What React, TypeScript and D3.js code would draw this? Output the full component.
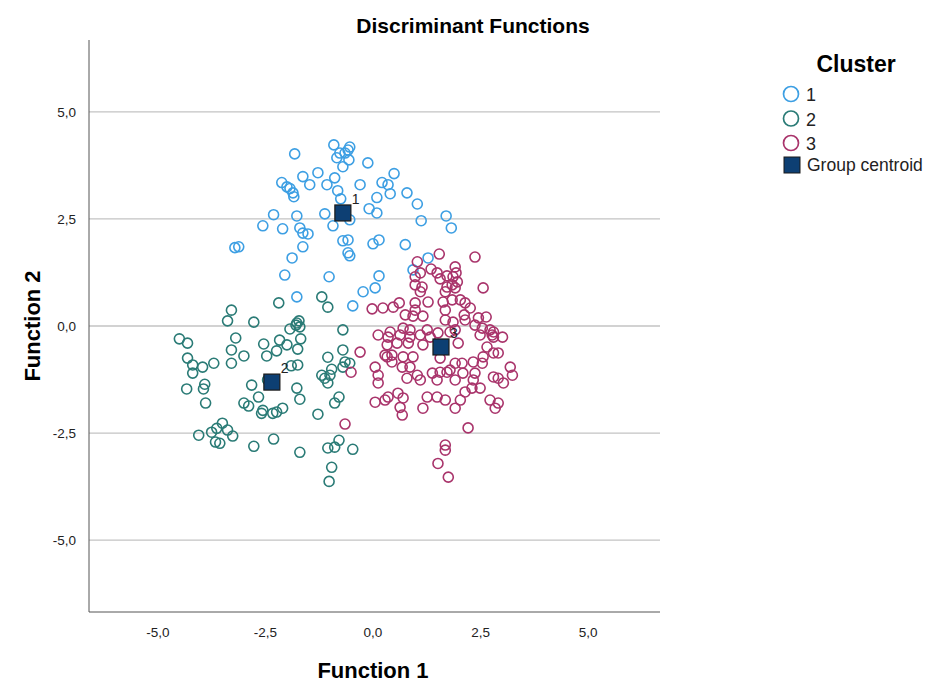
import React from "react";
import * as d3 from "d3";

const W = 928;
const H = 682;

const xTicks = [-5, -2.5, 0, 2.5, 5];
const yTicks = [5, 2.5, 0, -2.5, -5];
const fmt = (v: number) => v.toFixed(1).replace(".", ",");

const clusterNames = ["1", "2", "3"];
const clusterColors = ["#3d9fe3", "#2a7b76", "#a9346b"];

const cluster1: [number, number][] = [
  [-0.91, 4.23], [-0.54, 4.18], [-0.58, 4.11], [-0.77, 4.04], [-0.65, 4.04], [-0.84, 3.93],
  [-0.56, 3.88], [-0.70, 3.72], [-0.12, 3.81], [-1.28, 3.58], [-1.63, 3.49], [-1.47, 3.30],
  [-1.07, 3.30], [-0.89, 3.46], [-0.30, 3.30], [0.21, 3.35], [0.35, 3.30], [0.49, 3.56],
  [0.40, 3.09], [0.79, 3.11], [-0.82, 3.16], [-0.75, 2.97], [0.09, 3.00], [1.03, 2.85],
  [-1.12, 2.62], [-0.54, 2.48], [-0.09, 2.74], [0.09, 2.64], [-0.93, 2.34], [1.12, 2.46],
  [1.70, 2.57], [1.82, 2.29], [-1.70, 2.29], [-1.63, 2.17], [-1.51, 2.15], [-0.70, 1.99],
  [-0.58, 2.01], [0.00, 1.92], [0.14, 2.01], [0.75, 1.90], [-1.63, 1.85], [-0.54, 1.64],
  [-0.58, 1.71], [1.28, 1.59], [-1.82, 4.02], [-2.12, 3.35], [-2.00, 3.25], [-1.93, 3.21],
  [-1.86, 3.11], [-1.84, 3.02], [-2.31, 2.60], [-1.77, 2.57], [-2.56, 2.34], [-2.10, 2.27],
  [-3.21, 1.83], [-3.12, 1.85], [-1.88, 1.59], [-2.05, 1.19], [-1.77, 0.68], [-1.02, 1.15],
  [0.14, 1.17], [-0.23, 0.80], [0.05, 0.89], [-0.47, 0.47], [0.93, 1.31],
];

const cluster2: [number, number][] = [
  [-2.19, 0.54], [-3.29, 0.37], [-3.38, 0.12], [-2.77, 0.09], [-1.93, -0.07], [-1.77, 0.07],
  [-1.72, 0.12], [-1.79, 0.02], [-1.70, -0.02], [-4.50, -0.30], [-4.31, -0.40], [-3.19, -0.28],
  [-2.54, -0.42], [-2.17, -0.33], [-2.00, -0.44], [-1.68, -0.30], [-3.29, -0.56], [-2.24, -0.58],
  [-2.47, -0.70], [-3.00, -0.70], [-1.75, -0.54], [-4.31, -0.75], [-4.19, -0.91], [-3.96, -0.96],
  [-3.70, -0.87], [-3.29, -0.87], [-1.90, -0.93], [-1.75, -0.91], [-4.19, -1.10], [-4.33, -1.47],
  [-3.91, -1.36], [-3.94, -1.47], [-3.89, -1.80], [-2.82, -1.38], [-2.66, -1.66], [-3.00, -1.80],
  [-2.89, -1.87], [-2.56, -1.97], [-2.59, -2.04], [-2.33, -2.04], [-2.24, -2.01], [-2.10, -1.92],
  [-1.77, -1.45], [-1.70, -1.71], [-2.45, -1.26], [-4.05, -2.55], [-3.75, -2.48], [-3.63, -2.39],
  [-3.50, -2.27], [-3.38, -2.43], [-3.26, -2.57], [-3.66, -2.71], [-3.56, -2.74], [-2.77, -2.81],
  [-2.31, -2.64], [-1.70, -2.95], [-1.19, 0.68], [-1.05, 0.44], [-0.70, -0.09], [-0.70, -0.56],
  [-1.05, -0.73], [-0.96, -1.01], [-0.65, -0.84], [-0.54, -0.87], [-0.70, -0.96], [-1.19, -1.15],
  [-1.12, -1.22], [-1.05, -1.33], [-1.00, -1.15], [-0.89, -1.80], [-0.79, -1.66], [-1.28, -2.06],
  [-1.05, -2.85], [-0.89, -2.83], [-0.79, -2.67], [-0.47, -2.88], [-0.96, -3.30], [-1.02, -3.63],
];

const cluster3: [number, number][] = [
  [1.54, 1.68], [1.03, 1.50], [1.35, 1.33], [1.49, 1.24], [1.91, 1.38], [1.93, 1.24],
  [0.98, 1.15], [1.10, 1.24], [1.56, 1.10], [1.72, 1.17], [0.98, 0.96], [1.14, 0.91],
  [1.10, 0.80], [1.72, 0.91], [1.68, 0.80], [1.91, 0.89], [1.96, 1.03], [1.28, 0.56],
  [0.98, 0.54], [0.98, 0.37], [1.63, 0.56], [1.84, 0.61], [2.03, 0.61], [1.68, 0.37],
  [0.23, 0.42], [0.47, 0.44], [0.61, 0.54], [0.75, 0.26], [0.93, 0.23], [1.16, 0.23],
  [0.70, -0.05], [0.86, -0.09], [1.26, -0.09], [1.51, -0.16], [1.68, 0.14], [1.86, 0.09],
  [1.79, -0.14], [1.10, -0.21], [0.63, -0.21], [0.40, -0.14], [2.37, 1.61], [2.56, 0.89],
  [1.86, 1.15], [1.84, 0.96], [2.14, 0.54], [2.26, 0.42], [2.12, 0.26], [2.14, 0.14],
  [2.45, 0.19], [2.63, 0.21], [2.54, -0.05], [2.37, 0.02], [2.72, -0.09], [2.80, -0.14],
  [3.01, -0.26], [2.80, -0.26], [1.91, -0.09], [0.12, -0.21], [0.35, -0.26], [0.86, -0.26],
  [1.33, -0.26], [0.33, -0.44], [0.56, -0.40], [0.82, -0.40], [1.16, -0.44], [0.28, -0.68],
  [0.44, -0.68], [0.44, -0.84], [0.70, -0.72], [0.93, -0.72], [0.68, -0.96], [0.86, -0.96],
  [0.79, -1.22], [1.03, -1.15], [1.10, -1.26], [1.38, -1.10], [1.49, -1.26], [1.56, -1.08],
  [0.05, -0.96], [0.12, -1.15], [0.12, -1.33], [0.05, -1.78], [0.28, -1.73], [0.35, -1.66],
  [0.58, -1.57], [0.70, -1.68], [0.63, -1.90], [0.68, -2.08], [1.16, -1.92], [1.26, -1.66],
  [1.49, -1.66], [1.68, -1.73], [1.56, -0.75], [1.72, -1.08], [1.68, -2.78], [1.68, -2.90],
  [1.51, -3.21], [1.75, -3.53], [1.98, -0.40], [1.91, -0.87], [2.07, -0.87], [1.79, -1.03],
  [1.91, -1.26], [2.09, -1.10], [2.33, -0.84], [2.54, -0.87], [2.56, -0.72], [2.65, -0.49],
  [2.80, -0.63], [2.91, -0.63], [2.37, -1.10], [2.33, -1.26], [2.49, -1.45], [2.30, -1.45],
  [2.14, -1.54], [2.03, -1.73], [1.91, -1.92], [2.80, -1.19], [2.91, -1.22], [3.03, -1.33],
  [3.19, -0.96], [3.24, -1.15], [2.72, -1.73], [2.91, -1.80], [2.84, -1.92], [2.21, -2.38],
  [2.49, -0.21], [2.77, -0.21], [-0.02, 0.40], [-0.30, -0.61], [0.33, -0.72], [-0.51, -1.08],
  [-0.65, -2.29],
];

const centroids: [number, number][] = [
  [-0.7, 2.64],
  [-2.35, -1.31],
  [1.58, -0.49],
];

const clusters = [cluster1, cluster2, cluster3];

export default function App() {
  const left = 89, right = 660, top = 40, bottom = 612;
  const x = d3.scaleLinear().domain([-6.6, 6.67]).range([left, right]);
  const y = d3.scaleLinear().domain([-6.68, 6.68]).range([bottom, top]);
  const font = "'Liberation Sans', Arial, sans-serif";

  return (
    <svg width={W} height={H} style={{ position: "absolute", left: 0, top: 0, background: "#fff" }}>
      <rect x={0} y={0} width={W} height={H} fill="#fff" />
      <text x={473} y={33} textAnchor="middle" fontFamily={font} fontWeight="bold" fontSize={21} fill="#000">
        Discriminant Functions
      </text>
      {yTicks.map((t) => (
        <line key={"g" + t} x1={left} x2={right} y1={y(t)} y2={y(t)} stroke="#c3c3c3" strokeWidth={1.3} />
      ))}
      <line x1={left} x2={left} y1={top} y2={bottom} stroke="#555" strokeWidth={1} />
      <line x1={left} x2={right} y1={bottom} y2={bottom} stroke="#555" strokeWidth={1} />
      {xTicks.map((t) => (
        <text key={"xt" + t} x={x(t)} y={bottom + 25} textAnchor="middle" fontFamily={font} fontSize={13.5} fill="#222">
          {fmt(t)}
        </text>
      ))}
      {yTicks.map((t) => (
        <text key={"yt" + t} x={left - 13} y={y(t) + 5} textAnchor="end" fontFamily={font} fontSize={13.5} fill="#222">
          {fmt(t)}
        </text>
      ))}
      <text x={x(0)} y={678} textAnchor="middle" fontFamily={font} fontWeight="bold" fontSize={22} fill="#000">
        Function 1
      </text>
      <text transform={`translate(40, ${y(0)}) rotate(-90)`} textAnchor="middle" fontFamily={font} fontWeight="bold" fontSize={22} fill="#000">
        Function 2
      </text>
      {clusters.map((pts, ci) => (
        <g key={"c" + ci}>
          {pts.map((p, i) => (
            <circle key={i} cx={x(p[0])} cy={y(p[1])} r={5} fill="none" stroke={clusterColors[ci]} strokeWidth={1.6} />
          ))}
        </g>
      ))}
      {centroids.map((c, i) => (
        <g key={"cent" + i}>
          <rect x={x(c[0]) - 8} y={y(c[1]) - 8} width={16} height={16} fill="#0d3f73" stroke="#1a1a1a" strokeWidth={1.2} />
          <text x={x(c[0]) + 9} y={y(c[1]) - 9} fontFamily={font} fontSize={14} fill="#222">
            {clusterNames[i]}
          </text>
        </g>
      ))}
      <text x={856} y={72} textAnchor="middle" fontFamily={font} fontWeight="bold" fontSize={23} fill="#000">
        Cluster
      </text>
      {clusterNames.map((n, i) => (
        <g key={"l" + i}>
          <circle cx={791} cy={94 + i * 24.5} r={7.5} fill="none" stroke={clusterColors[i]} strokeWidth={1.7} />
          <text x={806} y={101 + i * 24.5} fontFamily={font} fontSize={18} fill="#222">
            {n}
          </text>
        </g>
      ))}
      <rect x={784} y={157} width={16} height={16} fill="#0d3f73" stroke="#1a1a1a" strokeWidth={1} />
      <text x={807} y={171} fontFamily={font} fontSize={17.5} fill="#222">
        Group centroid
      </text>
    </svg>
  );
}
